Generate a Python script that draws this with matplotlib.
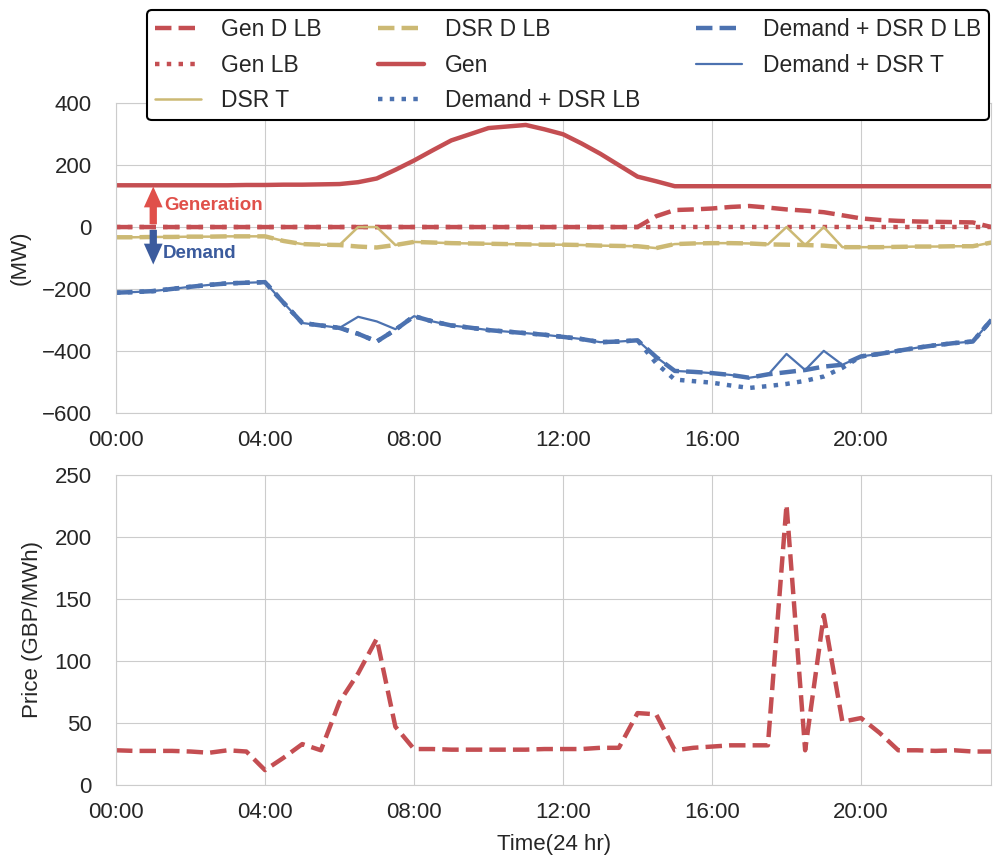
import numpy as np
import matplotlib
matplotlib.use("Agg")
import matplotlib.pyplot as plt
import seaborn as sns

# half-hourly values, 00:00 .. 23:30
hours = np.arange(0, 24, 0.5)

gen = [135, 135, 135, 135, 135, 135, 135, 136, 136, 137, 137, 138, 139,
       145, 157, 185, 215, 248, 280, 300, 320, 325, 330, 316, 300, 270,
       237, 200, 163, 148, 132,
       132, 132, 132, 132, 132, 132, 132, 132, 132, 132, 132, 132, 132, 132,
       132, 132, 132]
gen_d_lb = [0] * 29 + [35, 55, 57, 60, 65, 68, 63, 57, 53, 48, 38, 28, 23,
                       20, 18, 17, 16, 15, 0]
gen_lb = [0] * 48

dsr_t = [-33, -33, -32, -32, -31, -31, -30, -30, -30,
         -45, -55, -57, -58, 0, 0, -58, -48, -50, -52, -53, -54, -55, -56,
         -57, -57, -58, -60, -61, -62, -68, -55, -53, -52, -52, -53, -56,
         0, -58, 0, -65, -65, -65, -64, -63, -63, -62, -62, -50]
dsr_d_lb = [-33, -33, -32, -32, -31, -31, -30, -30, -30,
            -45, -55, -57, -58, -63, -66, -58, -48, -50, -52, -53, -54, -55,
            -56, -57, -57, -58, -60, -61, -62, -68, -55, -53, -52, -52, -53,
            -56, -57, -58, -60, -65, -65, -65, -64, -63, -63, -62, -62, -50]

dem_t = [-212, -210, -207, -200, -193, -187, -182, -180, -178,
         -245, -310, -318, -326, -290, -305, -330, -288,
         -305, -318, -325, -333, -338, -343, -348, -355,
         -362, -372, -370, -366,
         -420, -465, -468, -472, -478, -487, -478,
         -410, -462, -400, -445,
         -418, -410, -400, -390, -382, -375, -370, -300]
dem_d_lb = [-212, -210, -207, -200, -193, -187, -182, -180, -178,
            -245, -310, -318, -326, -345, -370, -332, -288,
            -305, -318, -325, -333, -338, -343, -348, -355,
            -362, -372, -370, -366,
            -420, -465, -468, -472, -478, -487, -476,
            -469, -462, -451, -445,
            -418, -410, -400, -390, -382, -375, -370, -300]
dem_lb = [-212, -210, -207, -200, -193, -187, -182, -180, -178,
          -245, -310, -318, -326, -345, -370, -332, -288,
          -305, -318, -325, -333, -338, -343, -348, -355,
          -362, -372, -370, -366,
          -440, -493, -498, -503, -512, -520, -514,
          -507, -497, -483, -455,
          -418, -410, -400, -390, -382, -375, -370, -300]

price = [28, 27.5, 27.5, 27.5, 27, 26, 28, 27, 12,
         22, 33, 28, 67, 90, 118, 47, 29,
         29, 28.5, 28.5, 28.5, 28.5, 28.5, 29, 29,
         29, 30, 30, 58,
         57, 28, 30, 31, 32, 32, 32,
         226, 28, 137, 51, 54,
         42, 28, 28, 27.5, 28, 27, 27]

tick_hours = [0, 4, 8, 12, 16, 20]
tick_labels = ["00:00", "04:00", "08:00", "12:00", "16:00", "20:00"]

red = "#C44E52"
blue = "#4C72B0"
gold = "#CCB974"

sns.set_style("whitegrid")
plt.rcParams["font.family"] = ["Liberation Sans", "DejaVu Sans"]
plt.rcParams["font.size"] = 16
plt.rcParams["text.color"] = "#262626"
plt.rcParams["axes.labelcolor"] = "#262626"

fig = plt.figure(figsize=(9.93, 8.59), dpi=100)
ax1 = fig.add_axes([116 / 993, 1 - 412.7 / 859, 875.4 / 993, 309.4 / 859])
ax2 = fig.add_axes([116 / 993, 1 - 785 / 859, 875.4 / 993, 310 / 859])

ax1.plot(hours, gen_d_lb, "--", color=red, lw=3.2, label="Gen D LB")
ax1.plot(hours, gen_lb, ":", color=red, lw=3.2, label="Gen LB")
ax1.plot(hours, dsr_t, "-", color=gold, lw=1.8, label="DSR T")
ax1.plot(hours, dsr_d_lb, "--", color=gold, lw=3.2, label="DSR D LB")
ax1.plot(hours, gen, "-", color=red, lw=3.2, label="Gen")
ax1.plot(hours, dem_lb, ":", color=blue, lw=3.2, label="Demand + DSR LB")
ax1.plot(hours, dem_d_lb, "--", color=blue, lw=3.2, label="Demand + DSR D LB")
ax1.plot(hours, dem_t, "-", color=blue, lw=1.6, label="Demand + DSR T")

# generation / demand arrows
ax1.annotate("", xy=(1.0, 140), xytext=(1.0, 0),
             arrowprops=dict(arrowstyle="simple,head_width=0.9,head_length=1.0,tail_width=0.35",
                             color="#E0504A", lw=0, mutation_scale=15))
ax1.annotate("", xy=(1.0, -130), xytext=(1.0, 0),
             arrowprops=dict(arrowstyle="simple,head_width=0.9,head_length=1.0,tail_width=0.35",
                             color="#3B5B9D", lw=0, mutation_scale=15))
ax1.text(1.3, 70, "Generation", color="#E0504A", fontsize=13.5, fontweight="bold", va="center")
ax1.text(1.26, -85, "Demand", color="#3B5B9D", fontsize=13.5, fontweight="bold", va="center")

ax1.set_xlim(0, 23.5)
ax1.set_ylim(-600, 400)
ax1.set_yticks([-600, -400, -200, 0, 200, 400])
ax1.set_xticks(tick_hours)
ax1.set_xticklabels(tick_labels)
ax1.set_ylabel("(MW)", labelpad=8)

leg = ax1.legend(loc="upper left", bbox_to_anchor=(147 / 993, 1 - 10 / 859),
                 bbox_transform=fig.transFigure, borderaxespad=0, ncol=3,
                 frameon=True, fontsize=16.5, handlelength=2.0,
                 handletextpad=0.9, columnspacing=2.45, labelspacing=0.55,
                 borderpad=0.35)
leg.get_frame().set_edgecolor("black")
leg.get_frame().set_linewidth(1.5)
leg.get_frame().set_alpha(1)

ax2.plot(hours, price, "--", color=red, lw=3.2)
ax2.set_xlim(0, 23.5)
ax2.set_ylim(0, 250)
ax2.set_xticks(tick_hours)
ax2.set_xticklabels(tick_labels)
ax2.set_ylabel("Price (GBP/MWh)", labelpad=8)
ax2.set_xlabel("Time(24 hr)", labelpad=8)

for ax in (ax1, ax2):
    ax.tick_params(axis="y", labelsize=16, pad=14, colors="#262626")
    ax.tick_params(axis="x", labelsize=16, pad=9, colors="#262626")

fig.savefig("out.png", dpi=100)
